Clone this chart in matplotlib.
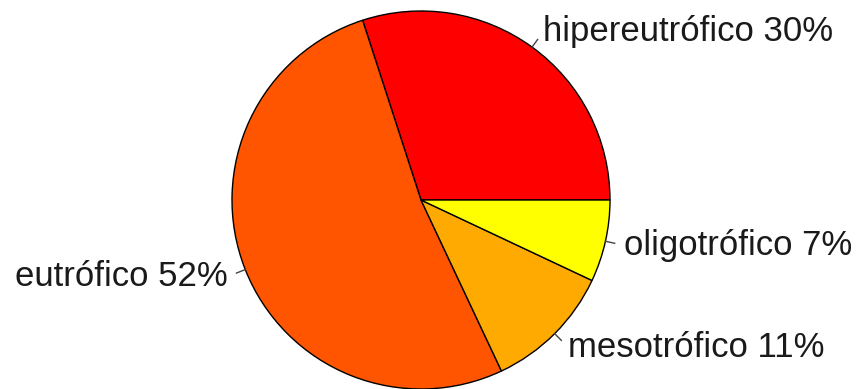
import numpy as np
import matplotlib
matplotlib.use("Agg")
import matplotlib.pyplot as plt

categories = ["hipereutrófico", "eutrófico", "mesotrófico", "oligotrófico"]
values = [30, 52, 11, 7]
colors = ["#FF0000", "#FF5500", "#FFAA00", "#FFFF00"]

labels = [f"{c} {v}%" for c, v in zip(categories, values)]

W, H = 858, 389
fig = plt.figure(figsize=(W / 100, H / 100), dpi=100)
ax = fig.add_axes([0, 0, 1, 1])

cx, cy, r = 421, H - 200, 189
wedges, _ = ax.pie(values, colors=colors, startangle=0, counterclock=True,
                   center=(cx, cy), radius=r,
                   wedgeprops=dict(edgecolor="black", linewidth=1.0),
                   frame=True)
ax.set_xlim(0, W)
ax.set_ylim(0, H)
ax.set_aspect("equal")
ax.axis("off")

for w, lab in zip(wedges, labels):
    mid = np.deg2rad((w.theta1 + w.theta2) / 2)
    c, s = np.cos(mid), np.sin(mid)
    ax.plot([cx + r * c, cx + 1.05 * r * c], [cy + r * s, cy + 1.05 * r * s],
            color="#444444", lw=1.0)
    ax.text(cx + 1.1 * r * c, cy + 1.1 * r * s, lab,
            ha="left" if c > 0 else "right", va="center",
            fontsize=25, family="Liberation Sans", color="#1a1a1a")

fig.savefig("out.png", dpi=100)
